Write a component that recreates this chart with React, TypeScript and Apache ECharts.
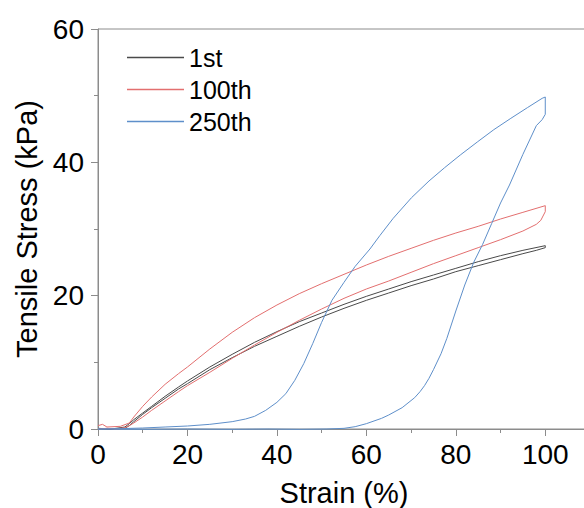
import React, { useEffect, useRef } from "react";
import * as echarts from "echarts";

const seriesNames = ["1st", "100th", "250th"];

// 1st cycle: loading then unloading [strain %, stress kPa]
const firstCycle: [number, number][] = [
  [0, 0.1], [3, 0], [6, 0.3], [7, 0.8], [8, 1.4], [10, 2.4], [12, 3.4], [15, 4.9], [18, 6.3], [20, 7.2],
  [25, 9.3], [30, 11.2], [35, 13.0], [40, 14.6], [45, 16.1], [50, 17.4], [55, 18.7], [60, 19.9], [65, 21.0],
  [70, 22.1], [75, 23.1], [80, 24.1], [85, 25.1], [90, 26.0], [95, 26.8], [100, 27.5],
  [100, 27.2], [98, 26.8], [95, 26.3], [90, 25.4], [85, 24.5], [80, 23.6], [75, 22.5], [70, 21.5], [65, 20.4],
  [60, 19.3], [55, 18.1], [50, 16.8], [45, 15.4], [40, 13.9], [35, 12.4], [30, 10.7], [25, 8.9], [20, 6.8],
  [18, 6.0], [15, 4.6], [12, 3.2], [10, 2.2], [8, 1.1], [7, 0.5], [6, 0.1], [3, 0], [0, 0],
];

// 100th cycle
const hundredthCycle: [number, number][] = [
  [0, 0.5], [1, 0.7], [2, 0.3], [5, 0.4], [7, 0.9], [8, 1.8], [10, 3.4], [12, 4.8], [15, 6.7], [18, 8.3],
  [20, 9.3], [25, 12.0], [30, 14.5], [35, 16.7], [40, 18.6], [45, 20.3], [50, 21.8], [55, 23.2], [60, 24.6],
  [65, 25.9], [70, 27.1], [75, 28.3], [80, 29.4], [85, 30.4], [90, 31.5], [95, 32.5], [100, 33.5],
  [100, 32.6], [99, 31.3], [98, 30.7], [95, 29.7], [90, 28.4], [85, 27.2], [80, 26.0], [75, 24.8], [70, 23.5],
  [65, 22.2], [60, 21.0], [55, 19.6], [50, 18.0], [45, 16.3], [40, 14.5], [35, 12.6], [30, 10.6], [25, 8.5],
  [20, 6.5], [18, 5.6], [15, 4.2], [12, 2.8], [10, 1.8], [8, 0.9], [7, 0.5], [6, 0.2], [4, 0], [2, 0.1], [0, 0],
];

// 250th cycle
const twoFiftiethCycle: [number, number][] = [
  [0, 0], [5, 0.05], [10, 0.15], [15, 0.3], [20, 0.45], [25, 0.7], [30, 1.1], [33, 1.5], [35, 1.9],
  [37.5, 2.8], [40, 4.0], [42, 5.3], [44, 7.3], [46, 9.8], [48, 12.8], [50, 16.0], [52.3, 19.3], [55, 22.0],
  [57.5, 24.4], [60.8, 27.0], [63, 29.0], [66, 31.6], [70.1, 34.7], [74, 37.2], [77.5, 39.2], [81, 41.1],
  [84.9, 43.1], [88.5, 44.9], [92.3, 46.6], [96, 48.2], [99.3, 49.6], [100, 49.8],
  [100, 47.2], [99.3, 46.4], [98, 45.5], [95, 41.2], [92, 36.6], [90, 33.9], [88, 30.8], [86, 27.7],
  [84, 25.0], [82, 21.6], [80, 17.7], [78, 13.6], [76.7, 11.3], [75, 8.9], [74, 7.6], [73, 6.5],
  [72, 5.6], [70.8, 4.7], [68, 3.2], [65, 2.1], [63.4, 1.6], [60, 0.8], [57.5, 0.35], [55, 0.1], [51, 0],
  [45, -0.05], [38, 0], [30, -0.05], [20, 0], [10, -0.05], [0, 0],
];

const colors = ["#4a4a4a", "#e36f6f", "#5e8fca"];

export default function App() {
  const ref = useRef<HTMLDivElement>(null);
  useEffect(() => {
    if (!ref.current) return;
    const chart = echarts.init(ref.current, undefined, { renderer: "svg" });
    const font = "'Liberation Sans', Arial, sans-serif";
    const axisColor = "#8c8c8c";
    chart.setOption({
      animation: false,
      backgroundColor: "#ffffff",
      grid: {
        left: 98,
        top: 29,
        width: 492,
        height: 400,
        show: true,
        borderColor: axisColor,
        borderWidth: 1,
        outerBoundsMode: "none",
        containLabel: false,
      },
      legend: {
        data: seriesNames,
        orient: "vertical",
        left: 122,
        top: 40,
        itemWidth: 57,
        itemHeight: 1.5,
        itemGap: 7,
        icon: "rect",
        textStyle: { fontFamily: font, fontSize: 25, color: "#000" },
      },
      xAxis: {
        type: "value",
        min: 0,
        max: 110,
        interval: 20,
        name: "Strain (%)",
        nameLocation: "middle",
        nameGap: 49,
        nameTextStyle: { fontFamily: font, fontSize: 29, color: "#000" },
        axisLine: { show: true, onZero: false, lineStyle: { color: axisColor, width: 1 } },
        axisTick: { show: true, inside: false, length: 7, lineStyle: { color: axisColor } },
        minorTick: { show: true, splitNumber: 2, length: 4, lineStyle: { color: axisColor } },
        axisLabel: {
          fontFamily: font,
          fontSize: 28,
          color: "#000",
          margin: 11,
          formatter: (v: number) => (v > 100 ? "" : String(v)),
        },
        splitLine: { show: false },
      },
      yAxis: {
        type: "value",
        min: 0,
        max: 60,
        interval: 20,
        name: "Tensile Stress (kPa)",
        nameLocation: "middle",
        nameGap: 57,
        nameTextStyle: { fontFamily: font, fontSize: 29, color: "#000" },
        axisLine: { show: true, lineStyle: { color: axisColor, width: 1 } },
        axisTick: { show: true, inside: false, length: 7, lineStyle: { color: axisColor } },
        minorTick: { show: true, splitNumber: 2, length: 4, lineStyle: { color: axisColor } },
        axisLabel: { fontFamily: font, fontSize: 28, color: "#000", margin: 14 },
        splitLine: { show: false },
      },
      series: [
        { name: seriesNames[0], data: firstCycle },
        { name: seriesNames[1], data: hundredthCycle },
        { name: seriesNames[2], data: twoFiftiethCycle },
      ].map((s, i) => ({
        ...s,
        type: "line",
        showSymbol: false,
        symbol: "none",
        clip: false,
        color: colors[i],
        lineStyle: { color: colors[i], width: 1 },
        itemStyle: { color: colors[i] },
      })),
    });
    return () => chart.dispose();
  }, []);
  return (
    <div
      ref={ref}
      style={{ position: "fixed", left: 0, top: 0, width: 584, height: 508, background: "#fff" }}
    />
  );
}
